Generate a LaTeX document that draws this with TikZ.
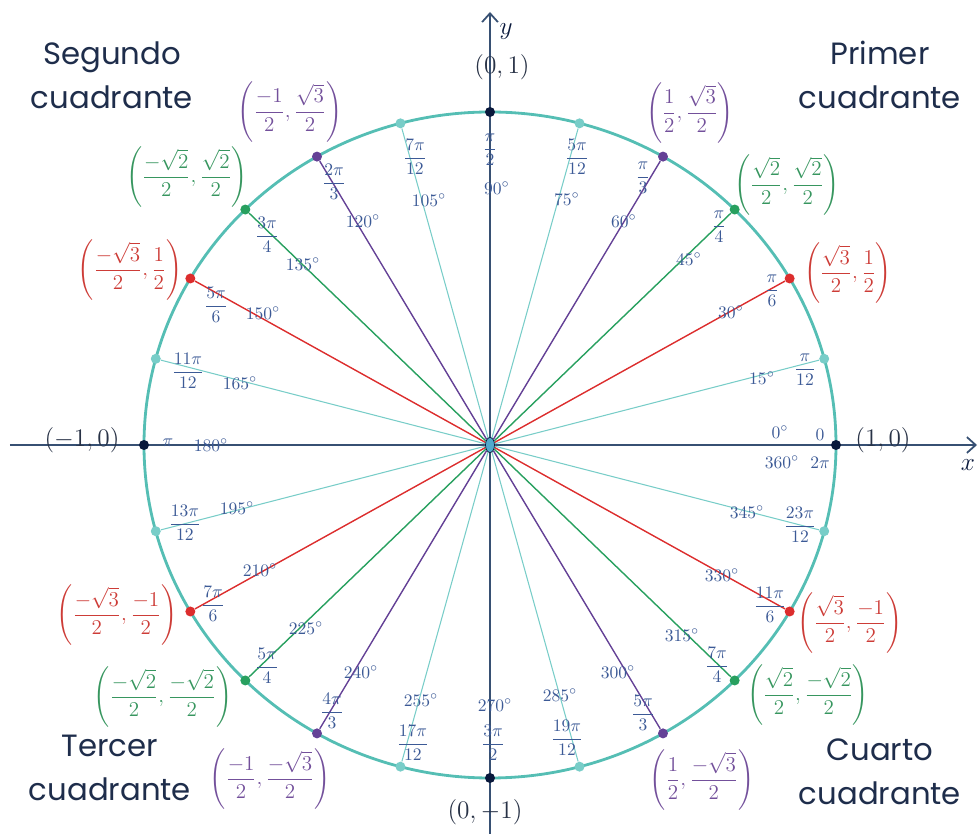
\documentclass[tikz,border=0pt]{standalone}
\usepackage{amsmath,amssymb}
\usepackage{fontspec}
\usepackage{tikz}
\usetikzlibrary{arrows.meta,shapes.geometric,backgrounds}
\newfontfamily\quadfont{Poppins}

\definecolor{unitc}{RGB}{85,190,180}
\definecolor{axisc}{RGB}{55,80,115}
\definecolor{navy}{RGB}{10,25,60}
\definecolor{ctrc}{RGB}{80,170,205}
\definecolor{lightc}{RGB}{120,205,200}
\definecolor{redc}{RGB}{220,45,45}
\definecolor{greenc}{RGB}{40,160,95}
\definecolor{purplec}{RGB}{100,65,150}
\definecolor{angc}{RGB}{60,90,150}
\definecolor{quadc}{RGB}{30,45,75}
\definecolor{redt}{RGB}{205,60,55}
\definecolor{greent}{RGB}{55,150,95}
\definecolor{purplet}{RGB}{115,80,155}
\definecolor{darkt}{RGB}{40,50,70}

\begin{document}
\begin{tikzpicture}[
  x=0.02cm, y=0.02cm, >={Straight Barb[length=5pt,width=9pt]},
  pt/.style={circle, inner sep=0pt, minimum size=0.2cm, fill=#1},
  spoke/.style={draw=#1, line width=0.8pt},
  thin spoke/.style={draw=lightc, line width=0.6pt},
  axis/.style={draw=axisc, line width=1pt},
  unit/.style={draw=unitc, line width=1.6pt},
  deg/.style={text=angc, font=\fontsize{10}{11}\selectfont, inner sep=0pt},
  rad/.style={text=angc, font=\fontsize{10}{11}\selectfont, inner sep=0pt},
  coord/.style={text=#1, font=\fontsize{11.5}{13}\selectfont, inner sep=0pt},
  axcoord/.style={text=darkt, font=\fontsize{15}{17}\selectfont, inner sep=0pt},
  quad/.style={text=quadc, font=\quadfont\fontsize{17.5}{25}\selectfont, align=center, inner sep=0pt}
]
\useasboundingbox (-490,-389) rectangle (490,445);

% centre and points on the circle
\node[ellipse, draw=navy, fill=ctrc, inner sep=0pt, minimum width=0.18cm, minimum height=0.3cm] (O) at (0,0) {};
\node[pt=navy] (p0) at (0:346 and 333) {};
\node[pt=lightc] (p15) at (15:346 and 333) {};
\node[pt=redc] (p30) at (30:346 and 333) {};
\node[pt=greenc] (p45) at (45:346 and 333) {};
\node[pt=purplec] (p60) at (60:346 and 333) {};
\node[pt=lightc] (p75) at (75:346 and 333) {};
\node[pt=navy] (p90) at (90:346 and 333) {};
\node[pt=lightc] (p105) at (105:346 and 333) {};
\node[pt=purplec] (p120) at (120:346 and 333) {};
\node[pt=greenc] (p135) at (135:346 and 333) {};
\node[pt=redc] (p150) at (150:346 and 333) {};
\node[pt=lightc] (p165) at (165:346 and 333) {};
\node[pt=navy] (p180) at (180:346 and 333) {};
\node[pt=lightc] (p195) at (195:346 and 333) {};
\node[pt=redc] (p210) at (210:346 and 333) {};
\node[pt=greenc] (p225) at (225:346 and 333) {};
\node[pt=purplec] (p240) at (240:346 and 333) {};
\node[pt=lightc] (p255) at (255:346 and 333) {};
\node[pt=navy] (p270) at (270:346 and 333) {};
\node[pt=lightc] (p285) at (285:346 and 333) {};
\node[pt=purplec] (p300) at (300:346 and 333) {};
\node[pt=greenc] (p315) at (315:346 and 333) {};
\node[pt=redc] (p330) at (330:346 and 333) {};
\node[pt=lightc] (p345) at (345:346 and 333) {};

% axis ends
\coordinate (xl) at (-480,0);
\coordinate (xr) at (487,0);
\coordinate (yb) at (0,-389);
\coordinate (yt) at (0,433);
\node[text=navy, font=\fontsize{15}{17}\selectfont] (xlab) at (478,-20) {$x$};
\node[text=navy, font=\fontsize{15}{17}\selectfont] (ylab) at (16,413) {$y$};

% degrees
\node[deg] (d0) at (290,13) {$0^\circ$};
\node[deg] (d360) at (292,-17) {$360^\circ$};
\node[deg] (d15) at (272,67) {$15^\circ$};
\node[deg] (d30) at (241,133) {$30^\circ$};
\node[deg] (d45) at (199,186) {$45^\circ$};
\node[deg] (d60) at (134,224) {$60^\circ$};
\node[deg] (d75) at (77,246) {$75^\circ$};
\node[deg] (d90) at (7,257) {$90^\circ$};
\node[deg] (d105) at (-61,245) {$105^\circ$};
\node[deg] (d120) at (-127,224) {$120^\circ$};
\node[deg] (d135) at (-187,181) {$135^\circ$};
\node[deg] (d150) at (-227,132) {$150^\circ$};
\node[deg] (d165) at (-250,62) {$165^\circ$};
\node[deg] (d180) at (-279,0) {$180^\circ$};
\node[deg] (d195) at (-253,-63) {$195^\circ$};
\node[deg] (d210) at (-230,-125) {$210^\circ$};
\node[deg] (d225) at (-184,-183) {$225^\circ$};
\node[deg] (d240) at (-129,-227) {$240^\circ$};
\node[deg] (d255) at (-69,-255) {$255^\circ$};
\node[deg] (d270) at (5,-260) {$270^\circ$};
\node[deg] (d285) at (70,-250) {$285^\circ$};
\node[deg] (d300) at (128,-227) {$300^\circ$};
\node[deg] (d315) at (192,-190) {$315^\circ$};
\node[deg] (d330) at (232,-130) {$330^\circ$};
\node[deg] (d345) at (257,-67) {$345^\circ$};

% radians
\node[rad] (r0) at (330,10) {$0$};
\node[rad] (r360) at (330,-18) {$2\pi$};
\node[rad] (r15) at (315,75) {$\dfrac{\pi}{12}$};
\node[rad] (r30) at (282,154) {$\dfrac{\pi}{6}$};
\node[rad] (r45) at (229,218) {$\dfrac{\pi}{4}$};
\node[rad] (r60) at (153,267) {$\dfrac{\pi}{3}$};
\node[rad] (r75) at (87,288) {$\dfrac{5\pi}{12}$};
\node[rad] (r90) at (0,295) {$\dfrac{\pi}{2}$};
\node[rad] (r105) at (-75,288) {$\dfrac{7\pi}{12}$};
\node[rad] (r120) at (-156,263) {$\dfrac{2\pi}{3}$};
\node[rad] (r135) at (-223,210) {$\dfrac{3\pi}{4}$};
\node[rad] (r150) at (-274,140) {$\dfrac{5\pi}{6}$};
\node[rad] (r165) at (-302,74) {$\dfrac{11\pi}{12}$};
\node[rad] (r180) at (-322,2) {$\pi$};
\node[rad] (r195) at (-305,-78) {$\dfrac{13\pi}{12}$};
\node[rad] (r210) at (-277,-159) {$\dfrac{7\pi}{6}$};
\node[rad] (r225) at (-223,-221) {$\dfrac{5\pi}{4}$};
\node[rad] (r240) at (-158,-266) {$\dfrac{4\pi}{3}$};
\node[rad] (r255) at (-77,-298) {$\dfrac{17\pi}{12}$};
\node[rad] (r270) at (3,-298) {$\dfrac{3\pi}{2}$};
\node[rad] (r285) at (77,-293) {$\dfrac{19\pi}{12}$};
\node[rad] (r300) at (153,-268) {$\dfrac{5\pi}{3}$};
\node[rad] (r315) at (227,-220) {$\dfrac{7\pi}{4}$};
\node[rad] (r330) at (280,-160) {$\dfrac{11\pi}{6}$};
\node[rad] (r345) at (310,-80) {$\dfrac{23\pi}{12}$};

% coordinates of the points
\node[axcoord] (c0) at (393,5) {$(1,0)$};
\node[axcoord] (c90) at (12,378) {$(0,1)$};
\node[axcoord] (c180) at (-408,5) {$(-1,0)$};
\node[axcoord] (c270) at (-5,-367) {$(0,-1)$};
\node[coord=redt] (c30) at (358,172) {$\left(\dfrac{\sqrt{3}}{2},\dfrac{1}{2}\right)$};
\node[coord=greent] (c45) at (297,260) {$\left(\dfrac{\sqrt{2}}{2},\dfrac{\sqrt{2}}{2}\right)$};
\node[coord=purplet] (c60) at (200,332) {$\left(\dfrac{1}{2},\dfrac{\sqrt{3}}{2}\right)$};
\node[coord=purplet] (c120) at (-200,333) {$\left(\dfrac{-1}{2},\dfrac{\sqrt{3}}{2}\right)$};
\node[coord=greent] (c135) at (-303,268) {$\left(\dfrac{-\sqrt{2}}{2},\dfrac{\sqrt{2}}{2}\right)$};
\node[coord=redt] (c150) at (-360,175) {$\left(\dfrac{-\sqrt{3}}{2},\dfrac{1}{2}\right)$};
\node[coord=redt] (c210) at (-373,-170) {$\left(\dfrac{-\sqrt{3}}{2},\dfrac{-1}{2}\right)$};
\node[coord=greent] (c225) at (-327,-252) {$\left(\dfrac{-\sqrt{2}}{2},\dfrac{-\sqrt{2}}{2}\right)$};
\node[coord=purplet] (c240) at (-220,-334) {$\left(\dfrac{-1}{2},\dfrac{-\sqrt{3}}{2}\right)$};
\node[coord=purplet] (c300) at (212,-335) {$\left(\dfrac{1}{2},\dfrac{-\sqrt{3}}{2}\right)$};
\node[coord=greent] (c315) at (318,-250) {$\left(\dfrac{\sqrt{2}}{2},\dfrac{-\sqrt{2}}{2}\right)$};
\node[coord=redt] (c330) at (360,-178) {$\left(\dfrac{\sqrt{3}}{2},\dfrac{-1}{2}\right)$};

% quadrants
\node[quad] (q1) at (390,370) {Primer\\cuadrante};
\node[quad] (q2) at (-378,370) {Segundo\\cuadrante};
\node[quad] (q3) at (-380,-323) {Tercer\\cuadrante};
\node[quad] (q4) at (390,-327) {Cuarto\\cuadrante};

\begin{scope}[on background layer]
\draw[axis, ->] (xl) -- (xr);
\draw[axis, ->] (yb) -- (yt);
\draw[thin spoke] (O) -- (p15);
\draw[thin spoke] (O) -- (p75);
\draw[thin spoke] (O) -- (p105);
\draw[thin spoke] (O) -- (p165);
\draw[thin spoke] (O) -- (p195);
\draw[thin spoke] (O) -- (p255);
\draw[thin spoke] (O) -- (p285);
\draw[thin spoke] (O) -- (p345);
\draw[spoke=redc] (O) -- (p30);
\draw[spoke=redc] (O) -- (p150);
\draw[spoke=redc] (O) -- (p210);
\draw[spoke=redc] (O) -- (p330);
\draw[spoke=greenc] (O) -- (p45);
\draw[spoke=greenc] (O) -- (p135);
\draw[spoke=greenc] (O) -- (p225);
\draw[spoke=greenc] (O) -- (p315);
\draw[spoke=purplec] (O) -- (p60);
\draw[spoke=purplec] (O) -- (p120);
\draw[spoke=purplec] (O) -- (p240);
\draw[spoke=purplec] (O) -- (p300);
\draw[unit] (O.center) ellipse (346 and 333);
\end{scope}

\end{tikzpicture}
\end{document}
